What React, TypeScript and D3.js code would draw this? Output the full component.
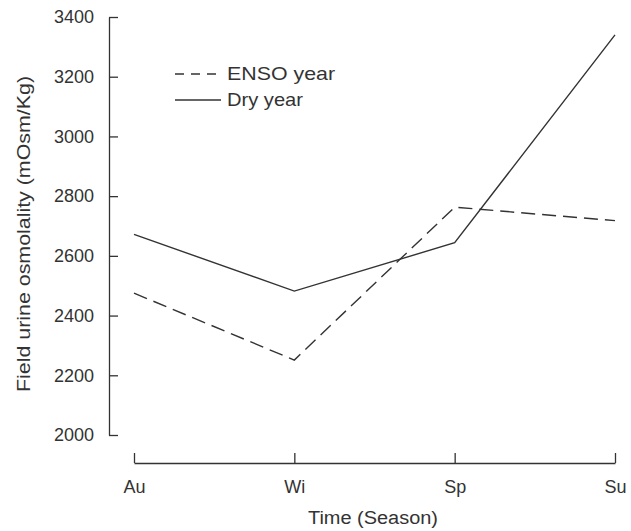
import * as d3 from "d3";
import { useEffect, useRef } from "react";

const seasons = ["Au", "Wi", "Sp", "Su"];
const ensoYear = [2475, 2251, 2763, 2718];
const dryYear = [2672, 2482, 2644, 3340];
const yTicks = [2000, 2200, 2400, 2600, 2800, 3000, 3200, 3400];

const ink = "#333";
const font = "'Liberation Sans', Arial, sans-serif";

const App = () => {
  const ref = useRef<SVGSVGElement>(null);

  useEffect(() => {
    const svg = d3.select(ref.current);
    svg.selectAll("*").remove();

    const x = d3.scalePoint<string>().domain(seasons).range([134, 615]);
    const y = d3.scaleLinear().domain([2000, 3400]).range([435, 17]);

    // y axis, ticks pointing inwards
    const yAxis = svg
      .append("g")
      .attr("transform", "translate(109,0)")
      .call(
        d3
          .axisLeft(y)
          .tickValues(yTicks)
          .tickSize(-9)
          .tickSizeOuter(0)
          .tickPadding(15)
          .tickFormat(d3.format("d"))
      );

    // x axis sits below the plot, ticks pointing up
    const xAxis = svg
      .append("g")
      .attr("transform", "translate(0,463)")
      .call(d3.axisBottom(x).tickSize(-10).tickSizeOuter(0).tickPadding(17));

    [yAxis, xAxis].forEach((g) => {
      g.attr("font-family", font).attr("font-size", 18);
      g.selectAll("path, line").attr("stroke", ink).attr("stroke-width", 1.3);
      g.selectAll("text").attr("fill", ink);
    });

    const line = d3
      .line<number>()
      .x((_, i) => x(seasons[i]) as number)
      .y((d) => y(d));

    svg
      .append("path")
      .datum(ensoYear)
      .attr("d", line)
      .attr("fill", "none")
      .attr("stroke", ink)
      .attr("stroke-width", 1.4)
      .attr("stroke-dasharray", "14,7");

    svg
      .append("path")
      .datum(dryYear)
      .attr("d", line)
      .attr("fill", "none")
      .attr("stroke", ink)
      .attr("stroke-width", 1.4);

    // legend (the original type is a bit wider than Arial)
    const legend = [
      { label: "ENSO year", dash: "9,7", y: 74, len: 108 },
      { label: "Dry year", dash: null, y: 100, len: 76 },
    ];
    const lg = svg.append("g");
    legend.forEach((d) => {
      lg.append("line")
        .attr("x1", 175)
        .attr("x2", 221)
        .attr("y1", d.y)
        .attr("y2", d.y)
        .attr("stroke", ink)
        .attr("stroke-width", 1.4)
        .attr("stroke-dasharray", d.dash);
      lg.append("text")
        .attr("x", 227)
        .attr("y", d.y)
        .attr("dy", "0.35em")
        .attr("font-family", font)
        .attr("font-size", 18.5)
        .attr("textLength", d.len)
        .attr("lengthAdjust", "spacingAndGlyphs")
        .attr("fill", ink)
        .text(d.label);
    });

    // axis titles
    svg
      .append("text")
      .attr("x", 373)
      .attr("y", 524)
      .attr("text-anchor", "middle")
      .attr("font-family", font)
      .attr("font-size", 18)
      .attr("textLength", 130)
      .attr("lengthAdjust", "spacingAndGlyphs")
      .attr("fill", ink)
      .text("Time (Season)");

    svg
      .append("text")
      .attr("transform", "translate(30,234) rotate(-90)")
      .attr("text-anchor", "middle")
      .attr("font-family", font)
      .attr("font-size", 18)
      .attr("textLength", 316)
      .attr("lengthAdjust", "spacingAndGlyphs")
      .attr("fill", ink)
      .text("Field urine osmolality (mOsm/Kg)");
  }, []);

  return (
    <svg
      ref={ref}
      width={631}
      height={531}
      style={{ position: "absolute", left: 0, top: 0, background: "#fff" }}
    />
  );
};

export default App;
